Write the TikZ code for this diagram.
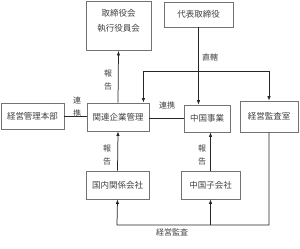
\documentclass[tikz,border=0pt]{standalone}
\usepackage{fontspec}
\newfontfamily\jp{Noto Sans CJK JP}
\usetikzlibrary{arrows.meta}
\begin{document}
\begin{tikzpicture}[x=1pt,y=-1pt,
    box/.style={draw=black!55,line width=0.8pt,inner sep=0pt,align=center,text=black!75},
    arr/.style={-{Latex[length=4.5pt,width=3.5pt]},line width=0.75pt,black!85},
    con/.style={line width=0.75pt,black!85},
    lbl/.style={text=black!75,inner sep=0pt,align=center,font=\jp\fontsize{8}{13}\selectfont}]
    \useasboundingbox (0,0) rectangle (300,249);
    \fill[white] (0,0) rectangle (300,249);
    \begin{scope}[font=\jp\fontsize{8.5}{15}\selectfont]
    % Top row
    \node[box,minimum width=65pt,minimum height=49pt,text depth=12pt] (board) at (118.5,26) {取締役会\\執行役員会};
    \node[box,minimum width=69pt,minimum height=25pt] (ceo) at (198.5,14.5) {代表取締役};
    % Middle row
    \node[box,minimum width=63pt,minimum height=26pt] (hq) at (32.5,116) {経営管理本部};
    \node[box,minimum width=62pt,minimum height=28pt] (affil) at (118,117) {関連企業管理};
    \node[box,minimum width=46pt,minimum height=27pt] (china) at (207,118.5) {中国事業};
    \node[box,minimum width=58pt,minimum height=31pt] (audit) at (269,116.5) {経営監査室};
    % Bottom row
    \node[box,minimum width=63pt,minimum height=28pt] (domestic) at (117.5,185) {国内関係会社};
    \node[box,minimum width=59pt,minimum height=28pt] (sub) at (210.5,185) {中国子会社};
    \end{scope}
    % Reporting lines
    \draw[arr] (affil.north) -- (board.south);
    \draw[arr] (domestic.north) -- (affil.south);
    \draw[arr] (sub.north) -- (sub.north |- china.south);
    % Direct control
    \draw[arr] (ceo.south) -- (ceo.south |- china.north);
    \coordinate (bus) at (200,71);
    \draw[arr] (bus) -| ([xshift=-6pt]affil.north east);
    \draw[arr] (bus) -| (audit.north);
    % Cooperation
    \draw[con] (hq.east) -- (hq.east -| affil.west);
    \draw[con] (affil.east |- china.west) -- (china.west);
    % Audit
    \coordinate (aud) at (117,225);
    \draw[arr] (audit.south) |- (aud) -- (domestic.south);
    \draw[arr] (sub.south |- aud) -- (sub.south);
    % Labels
    \node[lbl] (l1) at (108,80) {報\\告};
    \node[lbl] (l2) at (210,57) {直轄};
    \node[lbl] (l3) at (77,107) {連\\携};
    \node[lbl] (l4) at (167,105) {連携};
    \node[lbl] (l5) at (107,155) {報\\告};
    \node[lbl] (l6) at (202,155) {報\\告};
    \node[lbl] (l7) at (172,232) {経営監査};
\end{tikzpicture}
\end{document}
